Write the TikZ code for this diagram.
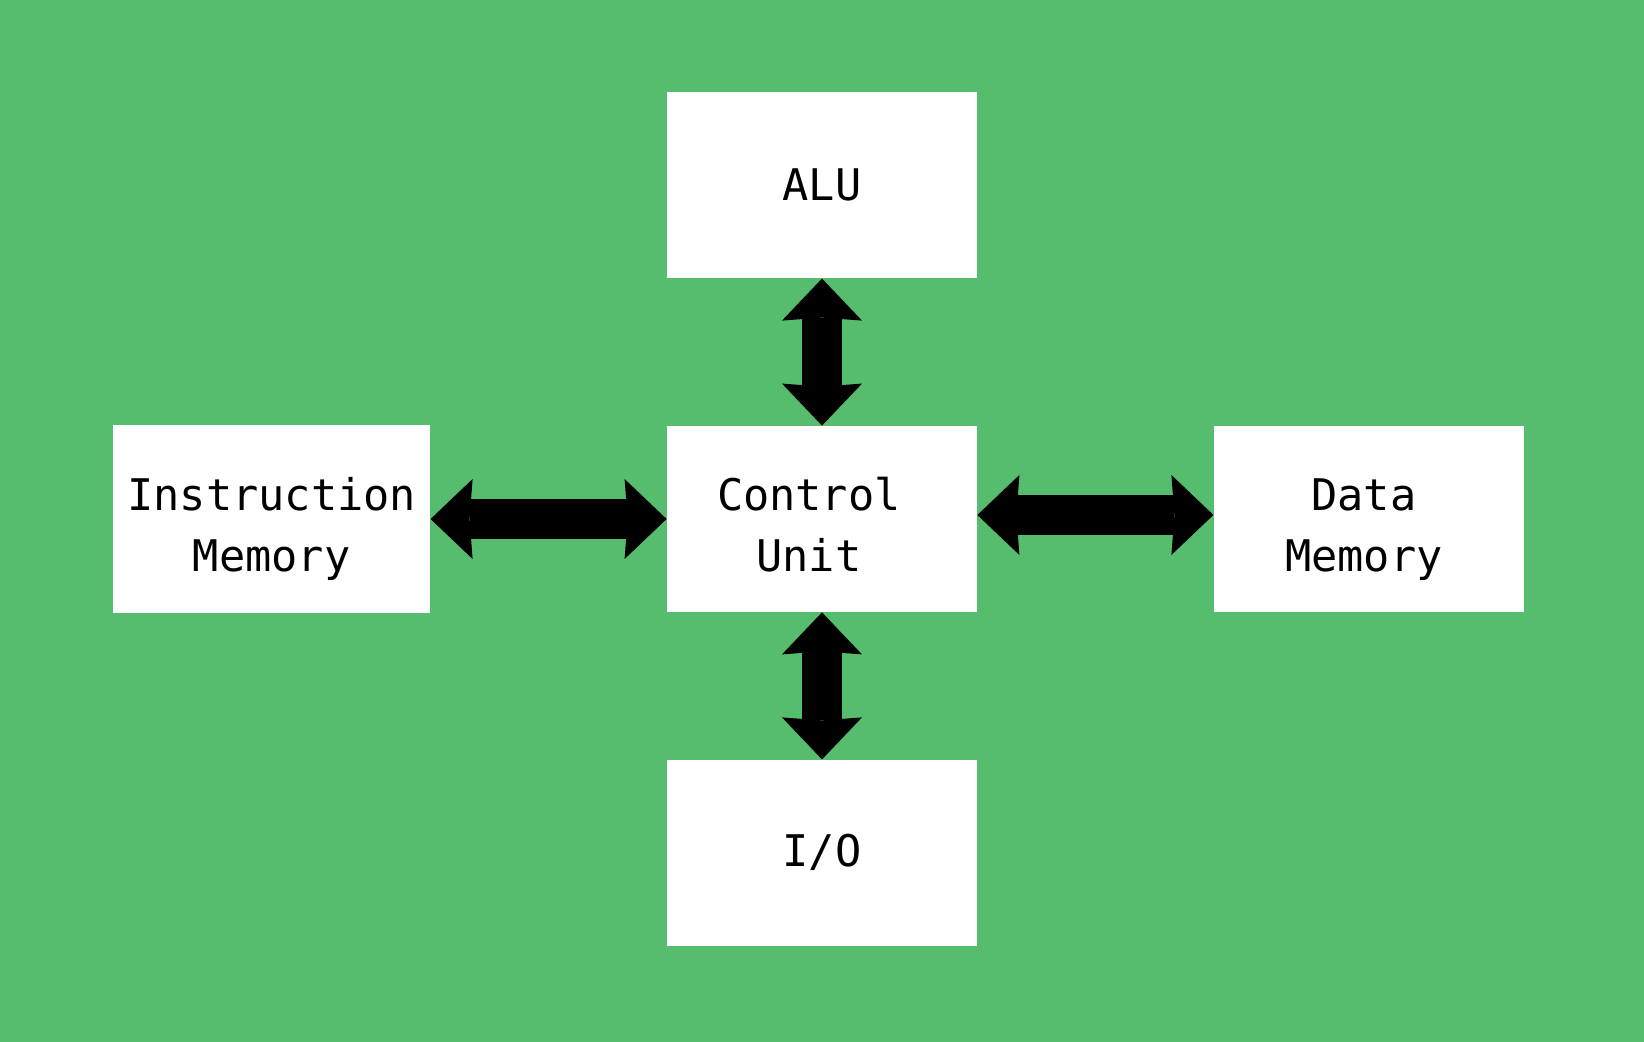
\documentclass[tikz,border=0pt]{standalone}
\usepackage{fontspec}
\setmonofont{DejaVu Sans Mono}
\usepackage{xcolor}
\usepackage{tikz}
\usetikzlibrary{arrows.meta,positioning}
\definecolor{board}{HTML}{57BD6E}

\begin{document}
\begin{tikzpicture}[<->,>={Stealth[length=21pt,width=40pt,inset=1.5pt,line width=0pt]},
node distance=73.5pt and 118pt,
unit/.style={fill=white,align=center,inner sep=0pt,minimum width=155pt,minimum height=93pt,
 font=\ttfamily\fontsize{21.8}{30.5}\selectfont},
twoline/.style={unit,text height=53pt,text depth=0pt},
link/.style={line width=20pt}]
\fill[board] (-411pt,-261.5pt) rectangle (411pt,259.5pt);
\node[twoline] (cu) {Control\hphantom{x}\\Unit\hphantom{x}};
\node[unit,above=of cu] (alu) {ALU};
\node[unit,below=of cu] (io) {I/O};
\node[twoline,left=of cu,minimum width=158.5pt,minimum height=94pt] (imem) {Instruction\\Memory};
\node[twoline,right=of cu] (dmem) {Data\hspace*{5pt}\\Memory\hspace*{5pt}};
\draw[link] (alu)--(cu);
\draw[link] (cu)--(io);
\draw[link] (imem)--(cu);
\draw[link] ([yshift=2pt]cu.east)--([yshift=2pt]dmem.west);
\end{tikzpicture}
\end{document}
